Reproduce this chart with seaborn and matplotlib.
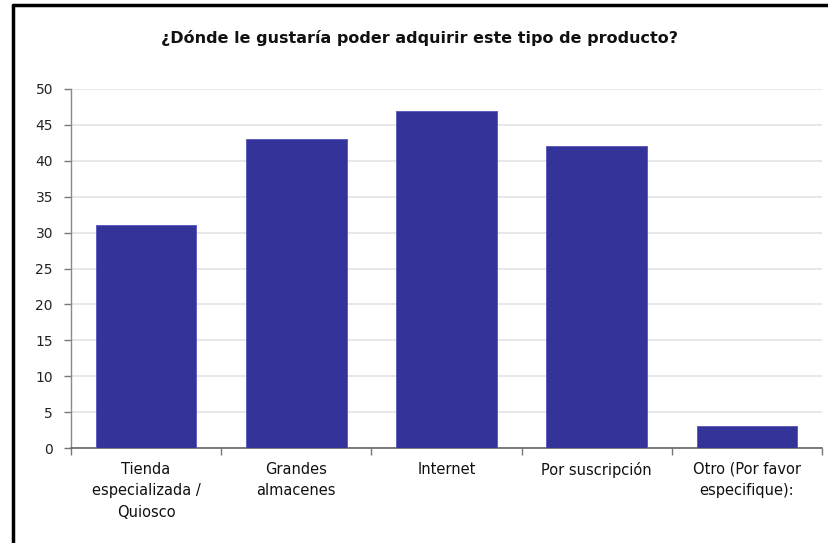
import matplotlib
matplotlib.use("Agg")
import matplotlib.pyplot as plt
import seaborn as sns
import pandas as pd
from matplotlib.lines import Line2D

categories = ["Tienda\nespecializada /\nQuiosco", "Grandes\nalmacenes", "Internet",
              "Por suscripción", "Otro (Por favor\nespecifique):"]
values = [31, 43, 47, 42, 3]
yticks = [0, 5, 10, 15, 20, 25, 30, 35, 40, 45, 50]
title = "¿Dónde le gustaría poder adquirir este tipo de producto?"

sns.set_theme(style="white")
plt.rcParams['font.family'] = ['DejaVu Sans']

df = pd.DataFrame({"cat": categories, "val": values})

fig = plt.figure(figsize=(8.29, 5.43), dpi=100)
ax = fig.add_axes([71/829, 1-448/543, 751/829, 359/543])

sns.barplot(data=df, x="cat", y="val", color="#333399", saturation=1, width=0.67,
            edgecolor="#5555bb", linewidth=0.6, ax=ax, zorder=3)

ax.set_ylim(0, 50)
ax.set_xlim(-0.5, len(categories) - 0.5)
ax.set_yticks(yticks)
ax.set_yticklabels([str(t) for t in yticks], fontsize=10, color="#222222")
ax.yaxis.grid(True, color="#e4e4e4", linewidth=1.2, zorder=0)
ax.set_axisbelow(True)
ax.set_xlabel("")
ax.set_ylabel("")

# x ticks at category boundaries, labels at centers
ax.set_xticks([i for i in range(len(categories))])
ax.set_xticklabels(categories, fontsize=10.5, color="#111111", linespacing=1.55)
ax.tick_params(axis="x", length=0, pad=10)
ax.set_xticks([i - 0.5 for i in range(len(categories) + 1)], minor=True)
ax.tick_params(axis="x", which="minor", length=5, width=1, color="#777777", direction="out", bottom=True)
ax.tick_params(axis="y", length=5, width=1, color="#777777", direction="out", left=True, pad=8)

for s in ["top", "right"]:
    ax.spines[s].set_visible(False)
ax.spines["left"].set_color("#888888")
ax.spines["bottom"].set_color("#666666")
ax.spines["left"].set_linewidth(1)
ax.spines["bottom"].set_linewidth(1.2)

fig.text(420/829, 1-38/543, title, ha="center", va="center", fontsize=11.5,
         fontweight="bold", color="#111111")

# outer frame lines (top and left)
fig.add_artist(Line2D([13.5/829, 13.5/829], [0, 1-5/543], transform=fig.transFigure,
                      color="black", linewidth=2.5))
fig.add_artist(Line2D([13.5/829, 1], [1-5/543, 1-5/543], transform=fig.transFigure,
                      color="black", linewidth=2.5))

fig.savefig("out.png", dpi=100)
